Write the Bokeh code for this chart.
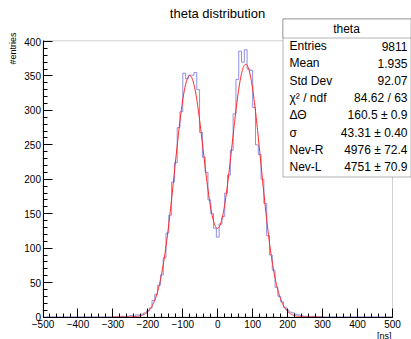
import numpy as np
from bokeh.plotting import figure
from bokeh.models import Range1d, Label, BoxAnnotation, FixedTicker, LinearAxis
from bokeh.embed import file_html
from bokeh.resources import INLINE

# ---------------- data ----------------
bin_low = -500.0
bin_high = 500.0
bin_width = 8.0
n_bins = 125
# counts for the bins between -300 and 300 (centres -296 ... 296)
core_first_bin = 25
core_counts = [
    0, 0, 0, 1, 0, 1, 2, 1, 3, 3,
    4, 6, 9, 13, 24, 33, 46, 61, 86, 122,
    148, 196, 224, 275, 298, 354, 346, 351, 351, 355,
    330, 268, 232, 210, 170, 150, 129, 116, 135, 146,
    180, 206, 242, 295, 345, 386, 370, 388, 360, 358,
    304, 250, 236, 200, 165, 118, 90, 68, 43, 30,
    22, 14, 10, 7, 6, 4, 3, 2, 1, 1,
    0, 1, 0, 0, 0,
]
fit_range = [-300.0, 300.0]
fit_delta_theta = 160.5
fit_sigma = 43.31
fit_nev_r = 4976.0
fit_nev_l = 4751.0

y_max = 401.0
x_ticks = [-500, -400, -300, -200, -100, 0, 100, 200, 300, 400, 500]
y_ticks = [0, 50, 100, 150, 200, 250, 300, 350, 400]

title_text = "theta distribution"
stats_title = "theta"
stats_names = ["Entries", "Mean", "Std Dev", "\u03c7\u00b2 / ndf", "\u0394\u0398", "\u03c3", "Nev-R", "Nev-L"]
stats_values = ["9811", "1.935", "92.07", "84.62 / 63", "160.5 \u00b1 0.9",
                "43.31 \u00b1 0.40", "4976 \u00b1 72.4", "4751 \u00b1 70.9"]
x_title = "[ns]"
y_title = "#entries"

# ---------------- layout (pixels) ----------------
W, H = 411, 339
PX_LEFT, PX_RIGHT = 42.5, 392.0      # pixel of x = -500 and x = 500
PX_BOTTOM, PX_TOP = 316.5, 41.0      # pixel of y = 0 and y = 400

sx = (PX_RIGHT - PX_LEFT) / (bin_high - bin_low)
sy = (PX_BOTTOM - PX_TOP) / 400.0
x_start = bin_low - PX_LEFT / sx
x_end = bin_high + (W - PX_RIGHT) / sx
y_start = -(H - PX_BOTTOM) / sy
y_end = 400.0 + PX_TOP / sy

# ---------------- build ----------------
counts = [0] * n_bins
for i, c in enumerate(core_counts):
    counts[core_first_bin + i] = c
edges = [bin_low + bin_width * i for i in range(n_bins + 1)]

FONT = "Liberation Sans"

p = figure(width=W, height=H, output_backend="svg", toolbar_location=None,
           x_range=Range1d(x_start, x_end), y_range=Range1d(y_start, y_end),
           x_axis_location=None, y_axis_location=None,
           min_border_left=0, min_border_right=0, min_border_top=0, min_border_bottom=0)
p.background_fill_color = "white"
p.border_fill_color = "white"
p.outline_line_color = None
p.grid.visible = False

# frame of the pad
p.add_layout(BoxAnnotation(left=bin_low, right=bin_high, bottom=0, top=y_max,
                           fill_alpha=0, line_color="#666666", line_width=1, level="underlay"))

# histogram outline
p.step(x=edges, y=counts + [counts[-1]], mode="after", line_color="#8f8fe6", line_width=1)

# fit curve from the fitted parameters
xf = np.linspace(fit_range[0], fit_range[1], 601)
norm = bin_width / (np.sqrt(2 * np.pi) * fit_sigma)
yf = (fit_nev_l * norm * np.exp(-(xf + fit_delta_theta / 2) ** 2 / (2 * fit_sigma ** 2)) +
      fit_nev_r * norm * np.exp(-(xf - fit_delta_theta / 2) ** 2 / (2 * fit_sigma ** 2)))
p.line(xf, yf, line_color="#ff2424", line_width=1.0)

xaxis = LinearAxis(fixed_location=0, bounds=(bin_low, bin_high),
                   ticker=FixedTicker(ticks=x_ticks, minor_ticks=list(range(-500, 501, 20))))
yaxis = LinearAxis(fixed_location=bin_low, bounds=(0, y_max),
                   ticker=FixedTicker(ticks=y_ticks, minor_ticks=list(range(0, 401, 10))))
for ax in (xaxis, yaxis):
    ax.major_tick_in = 9
    ax.major_tick_out = 0
    ax.minor_tick_in = 4
    ax.minor_tick_out = 0
    ax.axis_line_color = "black"
    ax.major_tick_line_color = "black"
    ax.minor_tick_line_color = "black"
    ax.major_label_text_font = FONT
    ax.major_label_text_font_size = "10px"
    ax.major_label_text_color = "black"
xaxis.major_label_standoff = 3
yaxis.major_label_standoff = 2
p.add_layout(xaxis, "below")
p.add_layout(yaxis, "left")


def lab(px, py, text, size, align="left", baseline="middle", angle=0.0):
    # px, py: canvas pixel position (top-left origin)
    p.add_layout(Label(x=px, y=H - py, x_units="screen", y_units="screen",
                       text=text, text_font=FONT, text_font_size=size, text_color="black",
                       text_align=align, text_baseline=baseline, angle=angle))


def box(l, t, r, b):
    p.add_layout(BoxAnnotation(left=l, right=r, top=H - t, bottom=H - b,
                               left_units="screen", right_units="screen", top_units="screen",
                               bottom_units="screen", fill_color="white", fill_alpha=1.0,
                               line_color="black", line_width=1))


# title
lab(217, 13, title_text, "13px", align="center")

# stats box
box(282.5, 18.5, 410.5, 176.5)
box(282.5, 18.5, 410.5, 37.5)
lab(346, 28.5, stats_title, "12px", align="center")
for i, (n, v) in enumerate(zip(stats_names, stats_values)):
    yy = 45.5 + i * 17.35
    lab(289, yy, n, "12px", align="left")
    lab(407, yy, v, "12px", align="right")

# axis titles
lab(391, 335, x_title, "9px", align="right")
lab(12, 32, y_title, "9px", align="right", angle=np.pi / 2)

html = file_html(p, INLINE)
open("out.html", "w").write(html)
